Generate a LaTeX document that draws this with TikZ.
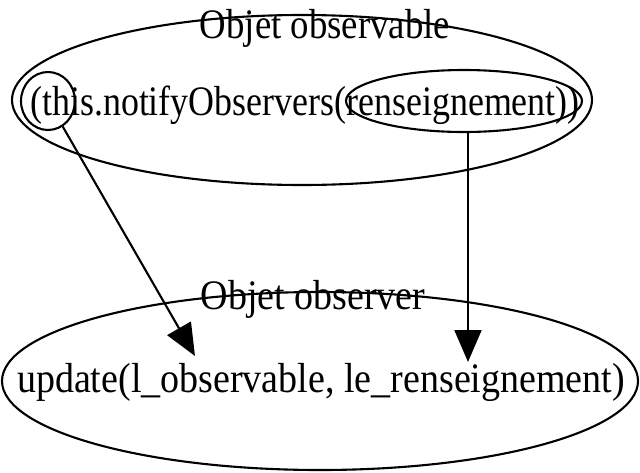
\documentclass[tikz,border=0pt]{standalone}
\usepackage{fontspec}
\setmainfont{Liberation Serif}
\usetikzlibrary{shapes.geometric,arrows.meta}
\begin{document}
\begin{tikzpicture}[x=1pt,y=-1pt,
  oval/.style={ellipse,draw,line width=2.1pt,inner sep=0pt},
  lbl/.style={inner sep=0pt,anchor=base,font=\fontsize{42}{48}\selectfont},
  conn/.style={line width=2.1pt,-{Triangle[length=32pt,width=27pt]}}]
\useasboundingbox (0,0) rectangle (640,472);
\node[oval,minimum width=580,minimum height=170] (obs) at (302,100) {};
\node[oval,minimum width=54,minimum height=58] (thisE) at (48,101) {};
\node[oval,minimum width=236,minimum height=62] (rensE) at (464,101) {};
\node[oval,minimum width=636,minimum height=178] (obsr) at (320,381) {};
\node[lbl] (t1) at (325,38) {\scalebox{0.875}[1]{Objet observable}};
\node[lbl] (t2) at (305,115) {\scalebox{0.855}[1]{(this.notifyObservers(renseignement))}};
\node[lbl] (t3) at (313,309) {\scalebox{0.905}[1]{Objet observer}};
\node[lbl] (t4) at (321,392) {\scalebox{0.905}[1]{update(l\_observable, le\_renseignement)}};
\coordinate (tipA) at (195,356);
\coordinate (tipB) at (468,362);
\draw[conn] (thisE) -- (tipA);
\draw[conn] (rensE.south -| tipB) -- (tipB);
\end{tikzpicture}
\end{document}
